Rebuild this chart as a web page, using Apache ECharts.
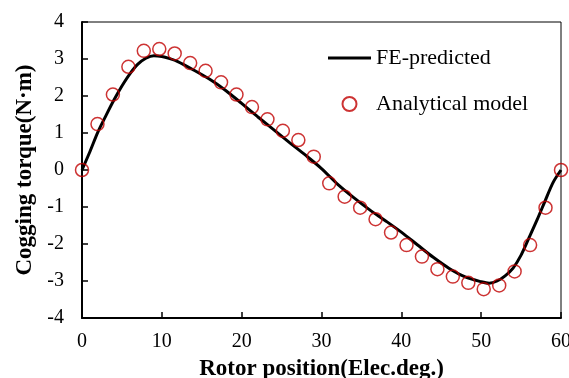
<!DOCTYPE html>
<html>
<head>
<meta charset="utf-8">
<script src="https://cdn.jsdelivr.net/npm/echarts@6/dist/echarts.min.js"></script>
<style>html,body{margin:0;padding:0;background:#fff;}#c{width:569px;height:378px;}</style>
</head>
<body>
<div id="c"></div>
<script>
// FE-predicted curve (rotor position deg, torque N·m)
var feX = [0, 1, 2, 3, 4, 5, 6, 7, 8, 9, 10, 11, 12, 14, 16, 18, 20, 22, 24, 26, 28, 30, 32, 34, 36, 38, 40, 42, 44, 46, 48, 50, 51, 52, 53, 54, 55, 56, 57, 58, 59, 60];
var feY = [0, 0.5, 1.03, 1.47, 1.89, 2.27, 2.6, 2.86, 3.02, 3.09, 3.07, 3.01, 2.93, 2.7, 2.45, 2.15, 1.8, 1.44, 1.09, 0.74, 0.4, 0.04, -0.38, -0.74, -1.07, -1.37, -1.68, -2.02, -2.36, -2.66, -2.89, -3.02, -3.06, -3.0, -2.86, -2.65, -2.3, -1.83, -1.35, -0.84, -0.34, 0];
// Analytical model points
var anX = [0, 1.94, 3.87, 5.81, 7.74, 9.68, 11.61, 13.55, 15.48, 17.42, 19.35, 21.29, 23.23, 25.16, 27.1, 29.03, 30.97, 32.9, 34.84, 36.77, 38.71, 40.65, 42.58, 44.52, 46.45, 48.39, 50.32, 52.26, 54.19, 56.13, 58.06, 60];
var anY = [0, 1.24, 2.04, 2.79, 3.22, 3.27, 3.15, 2.89, 2.68, 2.37, 2.04, 1.70, 1.37, 1.06, 0.81, 0.36, -0.36, -0.72, -1.02, -1.33, -1.69, -2.03, -2.34, -2.68, -2.88, -3.05, -3.22, -3.12, -2.74, -2.03, -1.02, 0];
var seriesNames = ['FE-predicted', 'Analytical model'];
var xTitle = 'Rotor position(Elec.deg.)';
var yTitle = 'Cogging torque(N\u00b7m)';

var font = "'Liberation Serif', 'Times New Roman', serif";
var feData = feX.map(function (x, i) { return [x, feY[i]]; });
var anData = anX.map(function (x, i) { return [x, anY[i]]; });

var chart = echarts.init(document.getElementById('c'), null, {renderer: 'canvas'});
chart.setOption({
  animation: false,
  backgroundColor: '#fff',
  grid: {left: 82, right: 8, top: 22, bottom: 60, show: true, borderColor: '#000', borderWidth: 1,
         containLabel: false, outerBoundsMode: 'none'},
  legend: {
    orient: 'vertical', left: 328, top: 47, padding: 0, itemGap: 24,
    itemWidth: 43, itemHeight: 14,
    textStyle: {fontFamily: font, fontSize: 22, color: '#000'},
    data: [
      {name: seriesNames[0], icon: 'path://M0,0 L43,0 L43,3 L0,3 Z', itemStyle: {color: '#000', borderWidth: 0}},
      {name: seriesNames[1]}
    ]
  },
  xAxis: {
    type: 'value', min: 0, max: 60, interval: 10,
    name: xTitle, nameLocation: 'middle', nameGap: 40,
    nameTextStyle: {fontFamily: font, fontSize: 23, fontWeight: 'bold', color: '#000'},
    axisLine: {onZero: false, lineStyle: {color: '#000', width: 2}},
    axisTick: {inside: true, length: 6, lineStyle: {color: '#000', width: 1.5}},
    axisLabel: {fontFamily: font, fontSize: 20, color: '#000', margin: 14},
    splitLine: {show: false}
  },
  yAxis: {
    type: 'value', min: -4, max: 4, interval: 1,
    name: yTitle, nameLocation: 'middle', nameGap: 44, nameRotate: 90,
    nameTextStyle: {fontFamily: font, fontSize: 23, fontWeight: 'bold', color: '#000'},
    axisLine: {onZero: false, lineStyle: {color: '#000', width: 2}},
    axisTick: {inside: true, length: 6, lineStyle: {color: '#000', width: 1.5}},
    axisLabel: {fontFamily: font, fontSize: 20, color: '#000', margin: 18},
    splitLine: {show: false}
  },
  series: [
    {
      name: seriesNames[0], type: 'line', data: feData, smooth: 0.3,
      symbol: 'none', lineStyle: {color: '#000', width: 3}, itemStyle: {color: '#000'}, z: 2
    },
    {
      name: seriesNames[1], type: 'scatter', data: anData, symbol: 'circle', symbolSize: 13,
      itemStyle: {color: 'rgba(255,255,255,0)', borderColor: '#c00000', borderWidth: 1.5}, z: 3
    }
  ]
});
</script>
</body>
</html>
